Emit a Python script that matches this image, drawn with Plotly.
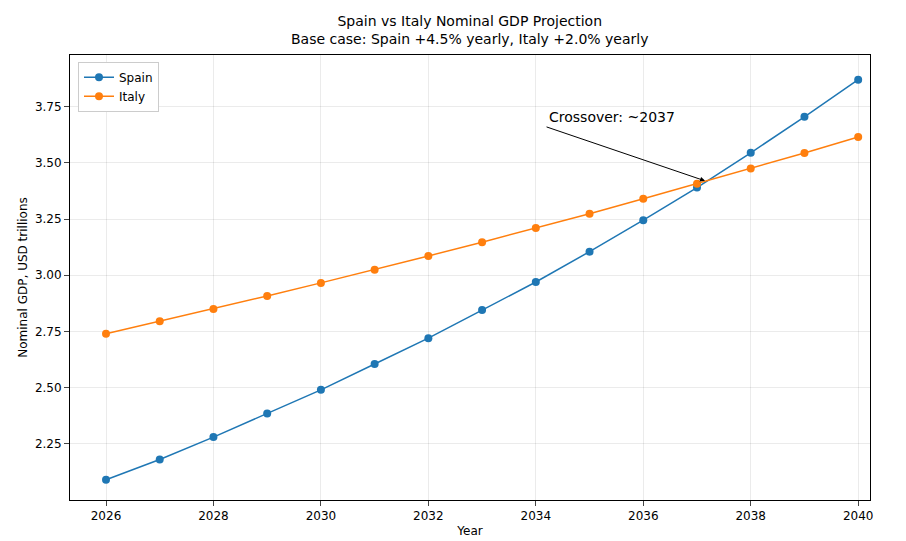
import plotly.graph_objects as go

years = list(range(2026, 2041))
spain = [2.09, 2.18, 2.28, 2.385, 2.49, 2.605, 2.72, 2.845, 2.97, 3.105, 3.245, 3.39, 3.545, 3.705, 3.87]
italy = [2.74, 2.795, 2.85, 2.908, 2.966, 3.025, 3.086, 3.147, 3.21, 3.274, 3.34, 3.407, 3.475, 3.544, 3.615]
cross_x, cross_y = 2037.15, 3.42

fig = go.Figure()
fig.add_trace(go.Scatter(x=years, y=spain, mode="lines+markers", name="Spain",
                         line=dict(color="#1f77b4", width=1.5), marker=dict(size=8)))
fig.add_trace(go.Scatter(x=years, y=italy, mode="lines+markers", name="Italy",
                         line=dict(color="#ff7f0e", width=1.5), marker=dict(size=8)))

fig.add_annotation(x=cross_x, y=cross_y, ax=2034.2, ay=3.66, xref="x", yref="y",
                   axref="x", ayref="y", text="Crossover: ~2037", showarrow=True,
                   arrowhead=2, arrowwidth=1, arrowcolor="black", xanchor="left",
                   yanchor="bottom", font=dict(size=14, color="black"))

fig.add_annotation(x=0.5, y=1.0, xref="paper", yref="paper", yshift=6,
                   text="Spain vs Italy Nominal GDP Projection<br>Base case: Spain +4.5% yearly, Italy +2.0% yearly",
                   showarrow=False, xanchor="center", yanchor="bottom", font=dict(size=14, color="black"))

axis = dict(showline=True, linecolor="black", mirror=True, ticks="outside",
            showgrid=True, gridcolor="rgba(0,0,0,0.08)", zeroline=False, automargin=False,
            tickfont=dict(size=12, color="black"))
fig.update_layout(
    width=906, height=541, plot_bgcolor="white", paper_bgcolor="white",
    font=dict(family="DejaVu Sans", color="black"),
    margin=dict(l=62, r=44, t=47, b=49, autoexpand=False),
    xaxis=dict(axis, range=[2025.33, 2040.22], tickvals=list(range(2026, 2041, 2)),
               title=dict(text="Year", font=dict(size=12), standoff=4)),
    yaxis=dict(axis, range=[2.0, 3.98], tickvals=[2.25, 2.5, 2.75, 3.0, 3.25, 3.5, 3.75],
               tickformat=".2f", title=dict(text="Nominal GDP, USD trillions", font=dict(size=12), standoff=4)),
    legend=dict(x=0.01, y=0.985, xanchor="left", yanchor="top", bordercolor="#cccccc",
                borderwidth=1, bgcolor="white", font=dict(size=12)),
)
fig.write_html("out.html")
